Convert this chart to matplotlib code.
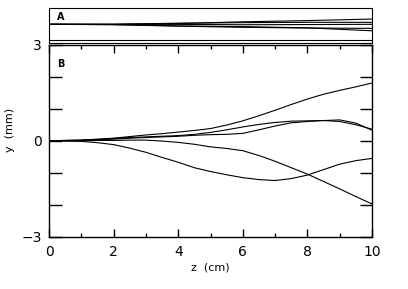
import matplotlib
matplotlib.use("Agg")
import matplotlib.pyplot as plt
import numpy as np

# ---- data ----
z_b = [0, 0.5, 1, 1.5, 2, 2.5, 3, 3.5, 4, 4.5, 5, 5.5, 6, 6.5, 7, 7.5, 8, 8.5, 9, 9.5, 10]
y_c1 = [0, 0.01, 0.02, 0.05, 0.08, 0.13, 0.18, 0.22, 0.27, 0.32, 0.38, 0.49, 0.62, 0.78, 0.95, 1.13, 1.30, 1.45, 1.57, 1.68, 1.80]
y_c2 = [0, 0.01, 0.02, 0.04, 0.07, 0.10, 0.12, 0.14, 0.16, 0.20, 0.26, 0.34, 0.43, 0.51, 0.57, 0.61, 0.62, 0.63, 0.60, 0.50, 0.36]
y_c3 = [0, 0.00, 0.01, 0.03, 0.05, 0.08, 0.10, 0.12, 0.14, 0.17, 0.19, 0.20, 0.23, 0.34, 0.46, 0.56, 0.60, 0.63, 0.65, 0.55, 0.33]
y_c4 = [0, -0.01, -0.02, -0.06, -0.12, -0.23, -0.36, -0.52, -0.67, -0.84, -0.96, -1.06, -1.15, -1.21, -1.24, -1.18, -1.07, -0.90, -0.73, -0.62, -0.55]
y_c5 = [0, 0.00, 0.00, 0.01, 0.01, 0.02, 0.02, -0.01, -0.05, -0.11, -0.19, -0.24, -0.31, -0.46, -0.64, -0.84, -1.04, -1.27, -1.50, -1.74, -1.97]

z_a = [0, 2, 4, 6, 8, 10]
a_1 = [0.055, 0.055, 0.10, 0.20, 0.27, 0.36]
a_2 = [0.055, 0.055, 0.12, 0.15, 0.17, 0.17]
a_3 = [0.055, 0.055, 0.05, 0.03, 0.04, 0.055]
a_4 = [0.055, 0.03, -0.05, -0.12, -0.16, -0.18]
a_5 = [0.055, 0.04, -0.04, -0.08, -0.15, -0.32]
a_base = -0.87

x_ticks = [0, 2, 4, 6, 8, 10]
x_minor = [1, 3, 5, 7, 9]
y_ticks = [-3, -2, -1, 0, 1, 2, 3]
y_labels = ["\u22123", "", "", "0", "", "", "3"]

W, H = 408, 289
fig = plt.figure(figsize=(W / 100, H / 100), dpi=100)

def fx(px):
    return px / W

def fy(py):
    return 1 - py / H

L, R = 49, 372
axA = fig.add_axes([fx(L), fy(42.5), fx(R) - fx(L), fy(8) - fy(42.5)])
axB = fig.add_axes([fx(L), fy(237), fx(R) - fx(L), fy(44.5) - fy(237)])

lc = "black"
lw = 0.8
for s in [a_1, a_2, a_3, a_4, a_5]:
    axA.plot(z_a, s, color=lc, lw=lw)
axA.axhline(a_base, color=lc, lw=lw)
axA.set_xlim(0, 10)
axA.set_ylim(-1, 1)
axA.set_xticks([])
axA.set_yticks([])
for sp in axA.spines.values():
    sp.set_linestyle((0, (1, 1)))
    sp.set_linewidth(0.8)
axA.text(0.025, 0.75, "A", transform=axA.transAxes, fontsize=7, fontweight="bold",
         ha="left", va="center")

for s in [y_c1, y_c2, y_c3, y_c4, y_c5]:
    axB.plot(z_b, s, color=lc, lw=lw)
axB.set_xlim(0, 10)
axB.set_ylim(-3, 3)
axB.set_xticks(x_ticks)
axB.set_xticks(x_minor, minor=True)
axB.set_xticklabels([str(t) for t in x_ticks], fontsize=10)
axB.set_yticks(y_ticks)
axB.set_yticklabels(y_labels, fontsize=10)
axB.tick_params(axis="x", which="major", direction="in", length=6, width=1,
                top=True, bottom=True, pad=6)
axB.tick_params(axis="x", which="minor", direction="in", length=3, width=1,
                top=True, bottom=True)
axB.tick_params(axis="y", which="major", direction="in", length=9, width=1,
                left=True, right=True, pad=5)
for sp in axB.spines.values():
    sp.set_linewidth(1)
axB.text(0.025, 0.9, "B", transform=axB.transAxes, fontsize=7, fontweight="bold",
         ha="left", va="center")

fig.text(fx(10), fy(130), "y  (mm)", rotation=90, fontsize=8, ha="center", va="center")
fig.text(fx(210), fy(268), "z  (cm)", fontsize=8, ha="center", va="center")

fig.savefig("out.png", dpi=100)
